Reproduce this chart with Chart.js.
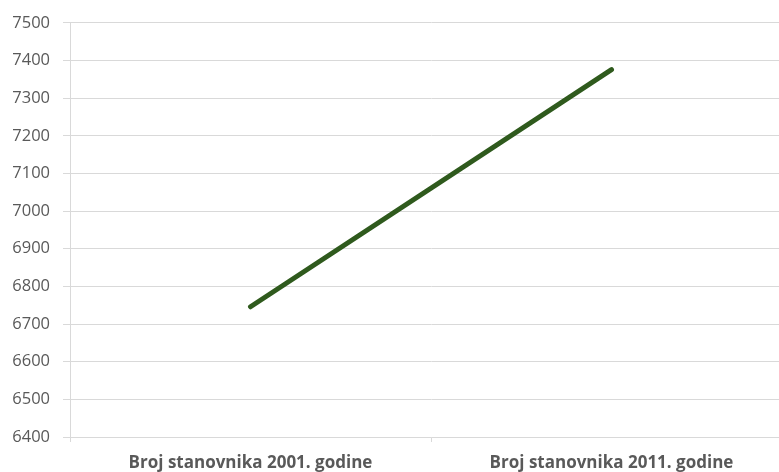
<!DOCTYPE html>
<html>
<head>
<meta charset="utf-8">
<script src="https://cdn.jsdelivr.net/npm/chart.js@4/dist/chart.umd.min.js"></script>
<style>
  html, body { margin: 0; padding: 0; background: #fff; overflow: hidden; }
  #wrap { width: 800px; height: 472px; }
</style>
</head>
<body>
<div id="wrap"><canvas id="c" width="800" height="472"></canvas></div>
<script>
const categories = ['Broj stanovnika 2001. godine', 'Broj stanovnika 2011. godine'];
const population = [6746, 7376];
const yMin = 6400;
const yMax = 7500;
const yStep = 100;

const grey = '#595959';
const gridColor = '#d9d9d9';

new Chart(document.getElementById('c'), {
  type: 'line',
  data: {
    labels: categories,
    datasets: [{
      data: population,
      borderColor: '#2f5a1d',
      borderWidth: 5,
      borderCapStyle: 'round',
      pointRadius: 0,
      tension: 0,
      fill: false
    }]
  },
  options: {
    responsive: false,
    animation: false,
    layout: { padding: { top: 21, right: 8, left: 0, bottom: 0 } },
    plugins: { legend: { display: false }, tooltip: { enabled: false } },
    scales: {
      x: {
        offset: true,
        grid: {
          offset: true,
          drawOnChartArea: false,
          color: gridColor,
          tickLength: 5,
          lineWidth: 1
        },
        border: { color: gridColor, width: 1 },
        ticks: {
          color: grey,
          font: { family: 'Open Sans', size: 17, weight: 'bold' },
          padding: 11,
          maxRotation: 0
        },
        afterFit: s => { s.height = 35; }
      },
      y: {
        min: yMin,
        max: yMax,
        ticks: {
          stepSize: yStep,
          color: grey,
          font: { family: 'Open Sans', size: 16.5 },
          padding: 13,
          callback: v => String(v)
        },
        grid: { color: gridColor, tickLength: 7, lineWidth: 1 },
        border: { color: gridColor, width: 1 },
        afterFit: s => { s.width = 70; }
      }
    }
  }
});
</script>
</body>
</html>
